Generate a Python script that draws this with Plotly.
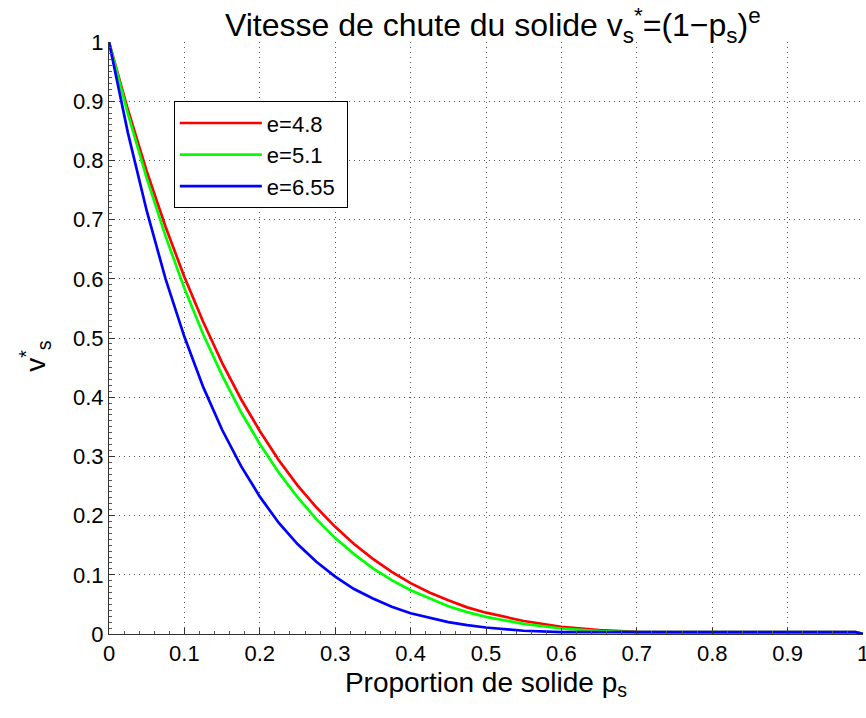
import plotly.graph_objects as go

# Proportion de solide p_s (x values)
ps = [0.0, 0.025, 0.05, 0.075, 0.1, 0.125, 0.15, 0.175, 0.2, 0.225, 0.25,
      0.275, 0.3, 0.325, 0.35, 0.375, 0.4, 0.425, 0.45, 0.475, 0.5,
      0.55, 0.6, 0.65, 0.7, 0.75, 0.8, 0.9, 0.99, 1.0]

# v*_s
v_e48 = [1.0, 0.886, 0.782, 0.688, 0.603, 0.527, 0.458, 0.397, 0.343, 0.294, 0.251,
         0.214, 0.181, 0.152, 0.127, 0.105, 0.086, 0.070, 0.057, 0.045, 0.036,
         0.022, 0.012, 0.0065, 0.0035, 0.003, 0.003, 0.003, 0.003, 0.0]
v_e51 = [1.0, 0.879, 0.770, 0.672, 0.584, 0.506, 0.437, 0.375, 0.321, 0.273, 0.231,
         0.194, 0.162, 0.135, 0.111, 0.091, 0.074, 0.060, 0.047, 0.037, 0.029,
         0.017, 0.0093, 0.005, 0.003, 0.003, 0.003, 0.003, 0.003, 0.0]
v_e655 = [1.0, 0.847, 0.715, 0.600, 0.502, 0.417, 0.345, 0.284, 0.232, 0.188, 0.152,
          0.122, 0.097, 0.076, 0.060, 0.046, 0.035, 0.027, 0.020, 0.015, 0.011,
          0.0055, 0.003, 0.003, 0.003, 0.003, 0.003, 0.003, 0.003, 0.0]

series = [("e=4.8", v_e48, "#ff0000"),
          ("e=5.1", v_e51, "#00ff00"),
          ("e=6.55", v_e655, "#0000ff")]

x_ticks = [0, 0.1, 0.2, 0.3, 0.4, 0.5, 0.6, 0.7, 0.8, 0.9, 1]
x_ticklabels = ["0", "0.1", "0.2", "0.3", "0.4", "0.5", "0.6", "0.7", "0.8", "0.9", "1"]
y_ticks = x_ticks
y_ticklabels = x_ticklabels

FONT = "Liberation Sans, Arial, Helvetica, sans-serif"

fig = go.Figure()
for name, vals, col in series:
    fig.add_trace(go.Scatter(x=ps, y=vals, mode="lines", name=name + "\u00a0",
                             line=dict(color=col, width=2.7)))

axis_common = dict(
    range=[0, 1], showline=True, linecolor="#333", linewidth=1,
    ticks="inside", ticklen=6, tickcolor="#333", mirror=False,
    showgrid=True, gridcolor="#555", griddash="1px,4px", gridwidth=1,
    zeroline=False, automargin=False, ticklabeloverflow="allow",
    tickfont=dict(family=FONT, size=22, color="black"),
    minor=dict(ticks="inside", ticklen=3, tickcolor="#555", showgrid=False),
)

fig.update_xaxes(**axis_common, tickmode="array", tickvals=x_ticks, ticktext=x_ticklabels,
                 title=dict(text="Proportion de solide p<sub>s</sub>",
                            font=dict(family=FONT, size=28, color="black"), standoff=6))
fig.update_xaxes(minor_dtick=0.02, minor_tick0=0)
fig.update_yaxes(**axis_common, tickmode="array", tickvals=y_ticks, ticktext=y_ticklabels)
fig.update_yaxes(minor_dtick=0.01, minor_tick0=0)

# y-axis label as a rotated annotation for exact placement
fig.add_annotation(text="v<sup>*</sup><sub>s</sub>", xref="paper", yref="paper",
                   x=-0.098, y=0.47, xanchor="center", yanchor="middle",
                   textangle=-90, showarrow=False,
                   font=dict(family=FONT, size=28, color="black"))

fig.update_layout(
    width=866, height=718,
    margin=dict(l=109, r=3, t=42, b=84),
    paper_bgcolor="white", plot_bgcolor="white",
    title=dict(text="Vitesse de chute du solide v<sub>s</sub><sup>*</sup>=(1−p<sub>s</sub>)<sup>e</sup>",
               x=0.509, xref="paper", xanchor="center",
               y=0.965, yref="container", yanchor="middle",
               font=dict(family=FONT, size=32, color="black")),
    legend=dict(x=0.086, y=0.9, xanchor="left", yanchor="top",
                bgcolor="white", bordercolor="black", borderwidth=1,
                font=dict(family=FONT, size=22, color="black"),
                itemwidth=82, tracegroupgap=0),
    showlegend=True,
)

fig.write_html("out.html", config={"displayModeBar": False},
               post_script="document.body.style.margin='0';document.body.style.overflow='hidden';")
